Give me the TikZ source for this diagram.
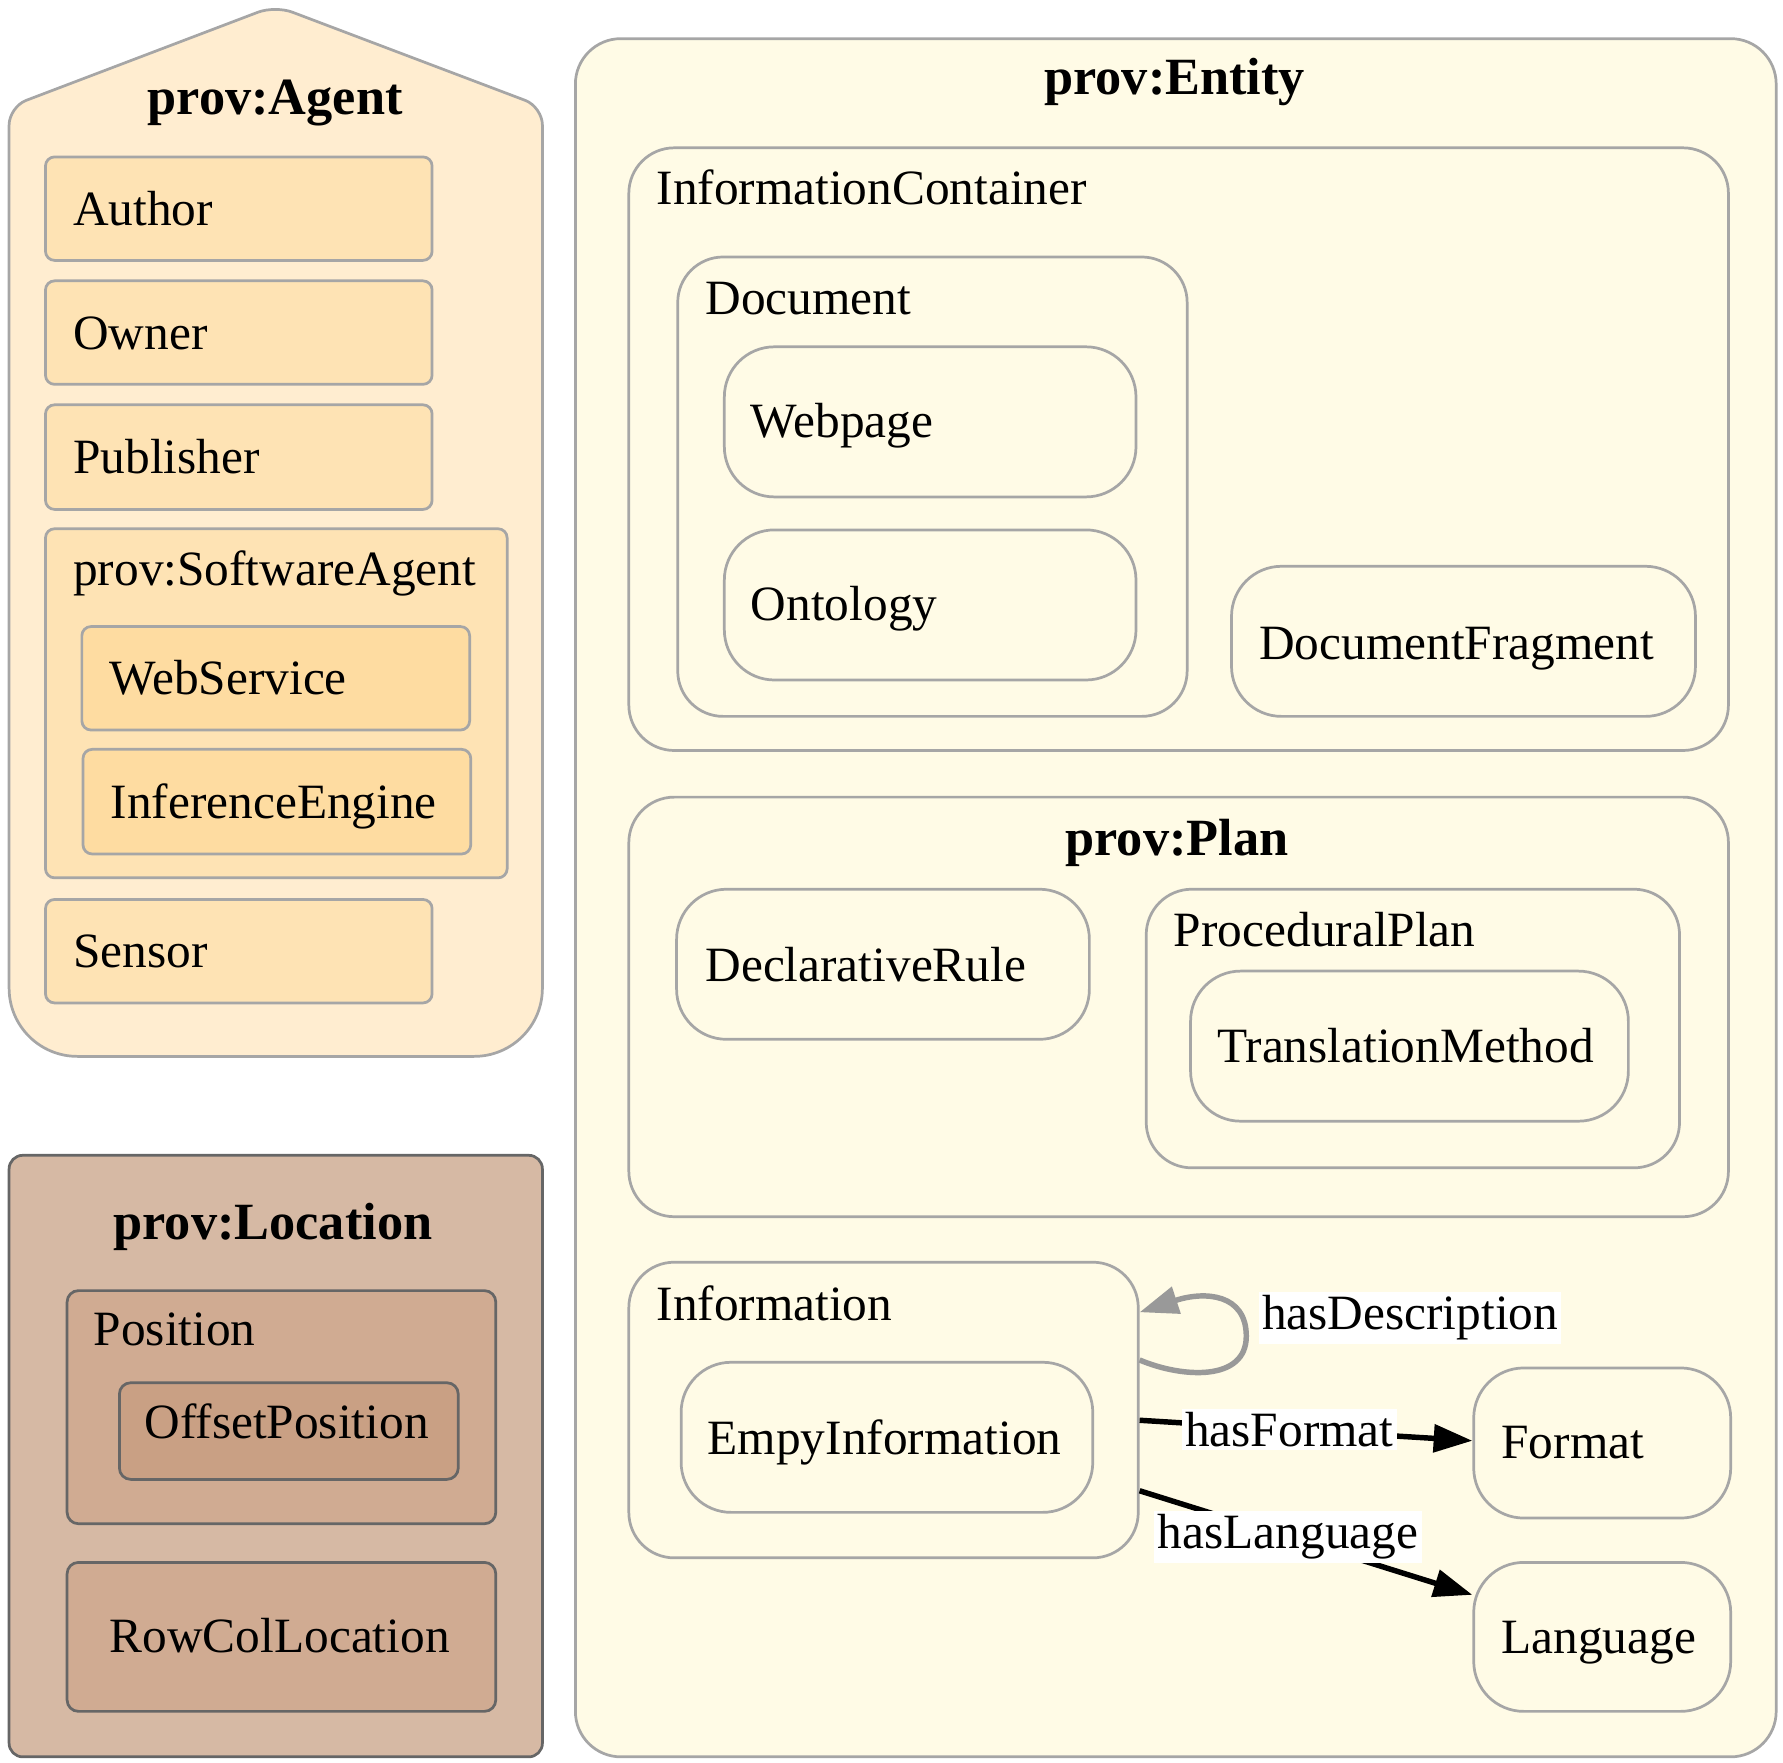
\documentclass[tikz,border=0pt]{standalone}
\usepackage{fontspec}
\setmainfont{Liberation Serif}
\usetikzlibrary{fit,arrows.meta}
\definecolor{bgray}{HTML}{A6A6A6}
\definecolor{agentbg}{HTML}{FFEDD0}
\definecolor{agentin}{HTML}{FEE3B4}
\definecolor{agentdeep}{HTML}{FEDCA1}
\definecolor{locbg}{HTML}{D6B9A4}
\definecolor{locmid}{HTML}{D0AB92}
\definecolor{locdeep}{HTML}{C9A084}
\definecolor{locborder}{HTML}{666666}
\definecolor{entbg}{HTML}{FFFBE6}
\definecolor{loopgray}{HTML}{999999}
\tikzset{
  x=0.5pt, y=-0.5pt,
  fitbox/.style={inner sep=0pt, line width=1.2pt},
  agbox/.style={fitbox, draw=bgray, fill=agentin, rounded corners=4pt},
  wsbox/.style={agbox, fill=agentdeep},
  locbox/.style={fitbox, draw=locborder, fill=locmid, rounded corners=5pt},
  offbox/.style={locbox, fill=locdeep},
  entcluster/.style={fitbox, draw=bgray, rounded corners=20pt},
  entbox/.style={fitbox, draw=bgray, rounded corners=22pt},
  txt/.style={font=\fontsize{21.7}{26}\selectfont, anchor=base west, inner sep=0pt, yshift=-1pt},
  ctxt/.style={txt, anchor=base},
  btxt/.style={font=\fontsize{23}{27}\selectfont\bfseries, anchor=base, inner sep=0pt, yshift=-1pt},
  elabel/.style={font=\fontsize{21.7}{26}\selectfont, fill=white, inner sep=1.5pt},
  edge/.style={line width=2.4pt, -{Triangle[length=17pt,width=12pt]}},
  loopedge/.style={edge, draw=loopgray, -{Triangle[length=17pt,width=12pt,fill=loopgray]}}
}
\begin{document}
\begin{tikzpicture}
\useasboundingbox (0,0) rectangle (1568,1550);
% ---------------- prov:Agent ----------------
\path[draw=bgray, fill=agentbg, line width=1.2pt]
  (8,500) [rounded corners=8pt] -- (8,94) -- (242,5) -- (477,94) -- (477,500)
  [rounded corners=30pt] -- (477,929) -- (8,929) -- cycle;
\node[btxt] (agentT) at (242,99) {prov:Agent};
\node[agbox, fit={(40,138) (380,229)}] (author) {};
\node[txt] (authorT) at (64,196) {Author};
\node[agbox, fit={(40,247) (380,338)}] (owner) {};
\node[txt] (ownerT) at (64,305) {Owner};
\node[agbox, fit={(40,356) (380,448)}] (publisher) {};
\node[txt] (publisherT) at (64,414) {Publisher};
\node[agbox, fit={(40,465) (446,772)}] (swagent) {};
\node[txt] (swagentT) at (64,513) {prov:SoftwareAgent};
\node[wsbox, fit={(72,551) (413,642)}] (websvc) {};
\node[txt] (websvcT) at (96,609) {WebService};
\node[wsbox, fit={(73,659) (414,751)}] (infeng) {};
\node[txt] (infengT) at (97,718) {InferenceEngine};
\node[agbox, fit={(40,791) (380,882)}] (sensor) {};
\node[txt] (sensorT) at (64,849) {Sensor};
% ---------------- prov:Location ----------------
\node[fitbox, draw=locborder, fill=locbg, rounded corners=6pt, fit={(8,1016) (477,1545)}] (location) {};
\node[btxt] (locationT) at (240,1088) {prov:Location};
\node[locbox, fit={(59,1135) (436,1340)}] (position) {};
\node[txt] (positionT) at (82,1181) {Position};
\node[offbox, fit={(105,1216) (403,1301)}] (offset) {};
\node[ctxt] (offsetT) at (252,1263) {OffsetPosition};
\node[locbox, fit={(59,1374) (436,1505)}] (rowcol) {};
\node[ctxt] (rowcolT) at (246,1451) {RowColLocation};
% ---------------- prov:Entity ----------------
\node[fitbox, draw=bgray, fill=entbg, rounded corners=20pt, fit={(506,34) (1562,1545)}] (entity) {};
\node[btxt] (entityT) at (1033,81) {prov:Entity};
\node[entcluster, fit={(553,130) (1520,660)}] (infocont) {};
\node[txt] (infocontT) at (577,178) {InformationContainer};
\node[entcluster, fit={(596,226) (1044,630)}] (document) {};
\node[txt] (documentT) at (620,275) {Document};
\node[entbox, fit={(637,305) (999,437)}] (webpage) {};
\node[txt] (webpageT) at (660,383) {Webpage};
\node[entbox, fit={(637,466) (999,598)}] (ontology) {};
\node[txt] (ontologyT) at (660,544) {Ontology};
\node[entbox, fit={(1083,498) (1491,630)}] (docfrag) {};
\node[txt] (docfragT) at (1107,578) {DocumentFragment};
\node[entcluster, fit={(553,701) (1520,1070)}] (plan) {};
\node[btxt] (planT) at (1035,750) {prov:Plan};
\node[entbox, fit={(595,782) (958,914)}] (declrule) {};
\node[txt] (declruleT) at (620,861) {DeclarativeRule};
\node[entcluster, fit={(1008,782) (1477,1027)}] (procplan) {};
\node[txt] (procplanT) at (1032,830) {ProceduralPlan};
\node[entbox, fit={(1047,854) (1432,986)}] (transm) {};
\node[txt] (transmT) at (1070,932) {TranslationMethod};
\node[entcluster, fit={(553,1110) (1001,1370)}] (info) {};
\node[txt] (infoT) at (577,1159) {Information};
\node[entbox, fit={(599,1198) (961,1330)}] (empty) {};
\node[txt] (emptyT) at (622,1277) {EmpyInformation};
\node[entbox, fit={(1296,1203) (1522,1335)}] (format) {};
\node[txt] (formatT) at (1320,1281) {Format};
\node[entbox, fit={(1296,1374) (1522,1505)}] (language) {};
\node[txt] (languageT) at (1320,1452) {Language};
% ---------------- edges ----------------
\draw[loopedge] ([yshift=22pt]info.east) .. controls (1040,1212) and (1096,1215) .. (1096,1175)
  .. controls (1096,1138) and (1060,1135) .. ([yshift=43pt]info.east);
\node[elabel] (hasDesc) at (1240,1159) {hasDescription};
\draw[edge] ([yshift=-4.5pt]info.east) -- node[elabel, pos=0.45] (hasFormat) {hasFormat} ([yshift=1pt]format.west);
\draw[edge] ([yshift=-35.5pt]info.east) -- node[elabel, pos=0.446] (hasLang) {hasLanguage} ([yshift=18.5pt]language.west);
\end{tikzpicture}
\end{document}
